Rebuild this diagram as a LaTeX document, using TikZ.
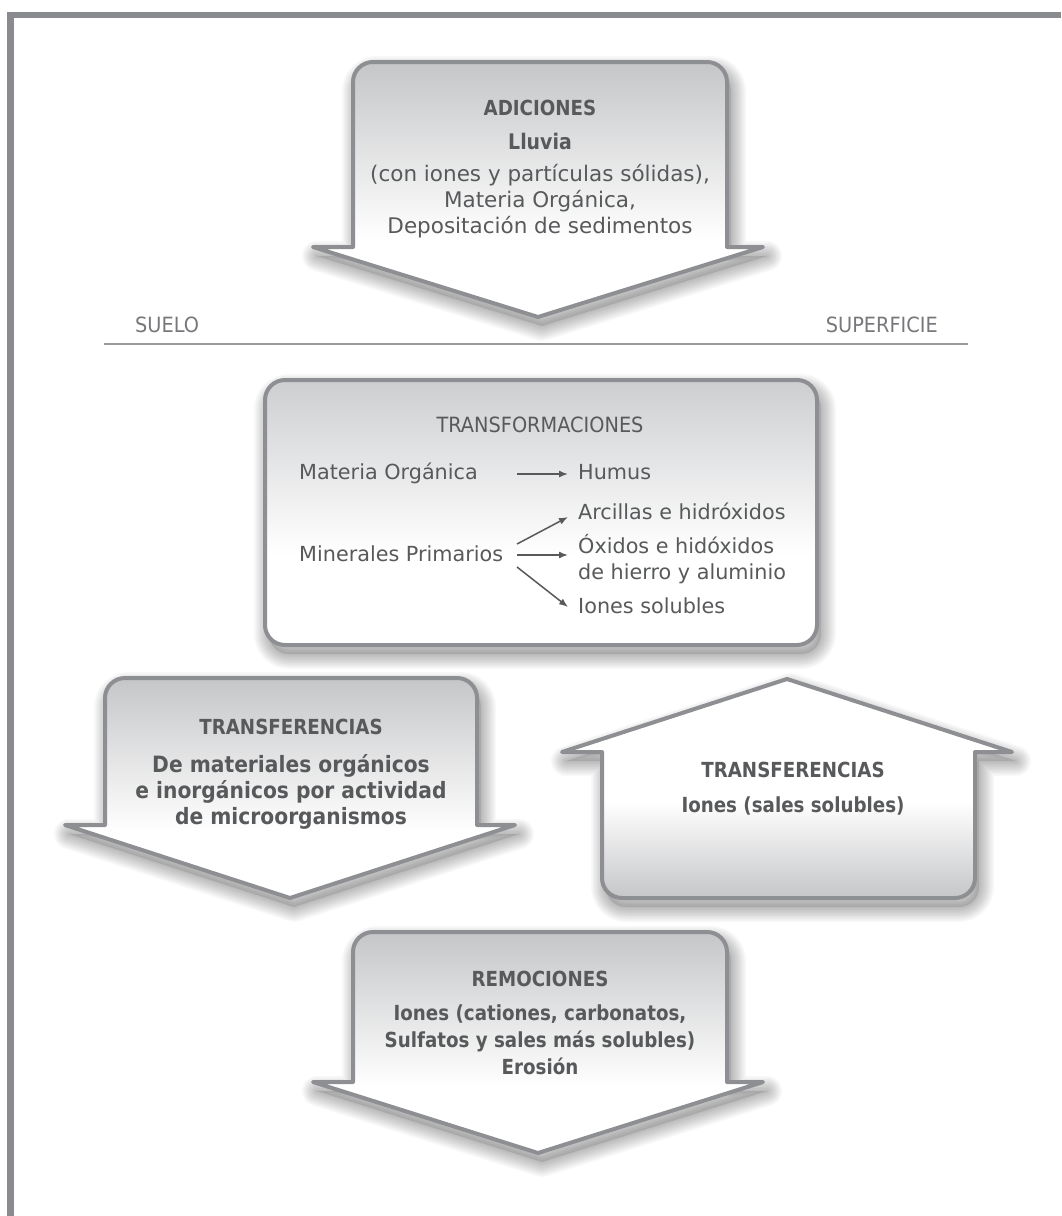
\documentclass[tikz,border=0pt]{standalone}
\usepackage{fontspec}
\setmainfont{DejaVu Sans}
\newfontfamily\condfont{DejaVu Sans}[FakeStretch=0.92]
\newfontfamily\heavyfont{DejaVu Sans}[FakeStretch=0.88]
\newfontfamily\wideheavyfont{DejaVu Sans}[FakeStretch=0.9]
\usetikzlibrary{arrows.meta}

\definecolor{framegray}{HTML}{8A8B8E}
\definecolor{edgegray}{HTML}{8E8F92}
\definecolor{shadegray}{HTML}{C5C6C8}
\definecolor{boxgray}{HTML}{CDCED0}
\definecolor{txtgray}{HTML}{58595B}
\definecolor{softgray}{HTML}{77787B}
\definecolor{rulegray}{HTML}{9A9B9E}

% vertical fills: the central band 25bp..75bp spans the shape
\pgfdeclareverticalshading{fadedown}{100bp}{color(0bp)=(white); color(25bp)=(white); color(40bp)=(white); color(75bp)=(shadegray); color(100bp)=(shadegray)}
\pgfdeclareverticalshading{fadeup}{100bp}{color(0bp)=(shadegray); color(25bp)=(shadegray); color(47bp)=(white); color(75bp)=(white); color(100bp)=(white)}
\pgfdeclareverticalshading{fadebox}{100bp}{color(0bp)=(white); color(25bp)=(white); color(42bp)=(white); color(75bp)=(boxgray); color(100bp)=(boxgray)}

% soft drop shadow under a stored outline
\newcommand\dropshadow[1]{%
  \fill[black, opacity=0.10, shift={(4,-9)}, #1];
  \foreach \w in {3,6,...,30}{%
    \draw[black, draw opacity=0.026, line width=\w pt, line join=round, shift={(4,-9)}, #1];}}

\begin{document}
\begin{tikzpicture}[x=1pt, y=1pt,
  outline/.style={draw=edgegray, line width=4pt, line join=round},
  txt/.style={text=txtgray, inner sep=0pt, anchor=base, font=\fontsize{20.75}{26}\selectfont},
  txtl/.style={txt, font=\fontsize{21.5}{26}\selectfont},
  txtb/.style={txt, font=\fontsize{20.75}{26}\selectfont\heavyfont\bfseries},
  txtbb/.style={txt, font=\fontsize{22.5}{26}\selectfont\wideheavyfont\bfseries},
  txtc/.style={txt, font=\fontsize{21}{26}\selectfont\condfont},
  lbl/.style={txt, text=softgray, font=\fontsize{21}{24}\selectfont\condfont},
  item/.style={txt, anchor=base west},
  small arrow/.style={draw=txtgray, line width=1.5pt, -{Latex[length=9pt, width=7pt]}},
  addshape/.style={insert path={(353,-247) -- (353,-82) arc[start angle=180, end angle=90, radius=20] -- (707,-62) arc[start angle=90, end angle=0, radius=20] -- (727,-247) -- (763,-247) -- (538,-317) -- (313,-247) -- cycle}},
  leftshape/.style={insert path={(105,-825) -- (105,-698) arc[start angle=180, end angle=90, radius=20] -- (457,-678) arc[start angle=90, end angle=0, radius=20] -- (477,-825) -- (515,-825) -- (290,-898) -- (65,-825) -- cycle}},
  rightshape/.style={insert path={(787,-679) -- (1012,-752) -- (975,-752) -- (975,-878) arc[start angle=0, end angle=-90, radius=20] -- (622,-898) arc[start angle=270, end angle=180, radius=20] -- (602,-752) -- (562,-752) -- cycle}},
  boxshape/.style={insert path={[rounded corners=20] (265,-380) rectangle (817,-645)}},
  remshape/.style={insert path={(353,-1082) -- (353,-952) arc[start angle=180, end angle=90, radius=20] -- (707,-932) arc[start angle=90, end angle=0, radius=20] -- (727,-1082) -- (763,-1082) -- (538,-1153) -- (313,-1082) -- cycle}}
]
\useasboundingbox (0,0) rectangle (1061,-1216);
\fill[white] (0,0) rectangle (1061,-1216);

% page frame: heavy rule on the top and left
\draw[framegray, line width=6.5pt, line join=miter] (10.5,-1216) -- (10.5,-15) -- (1061,-15);

% shadows
\dropshadow{addshape}
\dropshadow{boxshape}
\dropshadow{leftshape}
\dropshadow{rightshape}
\dropshadow{remshape}

% shapes
\shadedraw[shading=fadedown, outline, addshape];
\shadedraw[shading=fadebox, outline, boxshape];
\shadedraw[shading=fadedown, outline, leftshape];
\shadedraw[shading=fadeup, outline, rightshape];
\shadedraw[shading=fadedown, outline, remshape];

% surface line
\node[lbl, anchor=base west] (suelo) at (135,-332) {SUELO};
\node[lbl, anchor=base east] (superficie) at (938,-332) {SUPERFICIE};
\coordinate (g0) at (104,-344);
\coordinate (g1) at (968,-344);
\draw[rulegray, line width=2.5pt] (g0) -- (g1);

% additions
\node[txtb] (adT) at (540,-115) {ADICIONES};
\node[txtb, font=\fontsize{21.5}{26}\selectfont\heavyfont\bfseries] (adL) at (540,-149) {Lluvia};
\node[txtl] (ad1) at (540,-181) {(con iones y partículas sólidas),};
\node[txtl] (ad2) at (540,-207) {Materia Orgánica,};
\node[txtl] (ad3) at (540,-233) {Depositación de sedimentos};

% transformations
\node[txtc] (tfT) at (540,-432) {TRANSFORMACIONES};
\node[item] (mo) at (299,-479) {Materia Orgánica};
\node[item] (hum) at (578,-479) {Humus};
\node[item] (mp) at (299,-561) {Minerales Primarios};
\node[item] (arc) at (578,-519) {Arcillas e hidróxidos};
\node[item] (oxi) at (578,-553) {Óxidos e hidóxidos};
\node[item] (hie) at (578,-579) {de hierro y aluminio};
\node[item] (ion) at (578,-613) {Iones solubles};
\coordinate (a0s) at (517,-474);
\coordinate (a0e) at (568,-474);
\coordinate (a1s) at (517,-544);
\coordinate (a1e) at (568,-517);
\coordinate (a2s) at (517,-555);
\coordinate (a2e) at (568,-555);
\coordinate (a3s) at (517,-567);
\coordinate (a3e) at (568,-607);
\draw[small arrow] (a0s) -- (a0e);
\draw[small arrow] (a1s) -- (a1e);
\draw[small arrow] (a2s) -- (a2e);
\draw[small arrow] (a3s) -- (a3e);

% transfers downwards
\node[txtb] (tlT) at (291,-734) {TRANSFERENCIAS};
\node[txtbb] (tl1) at (291,-772) {De materiales orgánicos};
\node[txtbb] (tl2) at (291,-798) {e inorgánicos por actividad};
\node[txtbb] (tl3) at (291,-824) {de microorganismos};

% transfers upwards
\node[txtb] (trT) at (793,-777) {TRANSFERENCIAS};
\node[txtb] (tr1) at (793,-812) {Iones (sales solubles)};

% removals
\node[txtb] (rmT) at (540,-986) {REMOCIONES};
\node[txtb] (rm1) at (540,-1020) {Iones (cationes, carbonatos,};
\node[txtb] (rm2) at (540,-1047) {Sulfatos y sales más solubles)};
\node[txtb] (rm3) at (540,-1074) {Erosión};
\end{tikzpicture}
\end{document}
